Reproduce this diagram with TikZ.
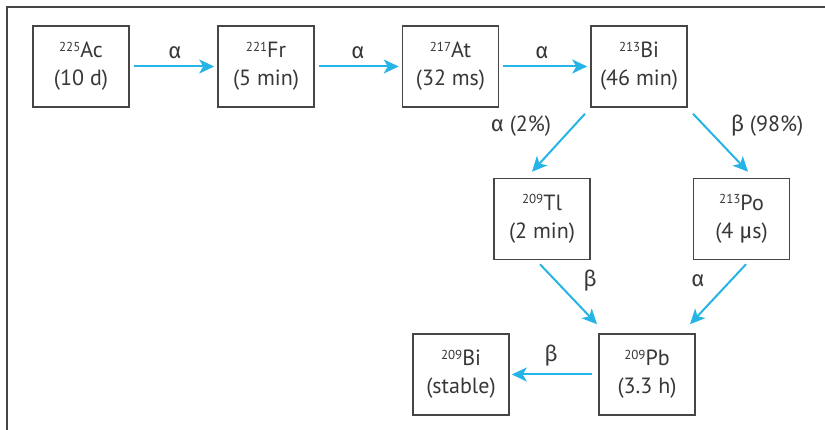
\documentclass[tikz,border=0pt]{standalone}
\usepackage{fontspec}
\setmainfont{PT Sans}
\newfontfamily\grk{Fira Sans}
\usetikzlibrary{arrows.meta,calc}
\definecolor{txt}{RGB}{55,55,55}
\definecolor{boxc}{RGB}{70,70,70}
\definecolor{arr}{RGB}{38,180,230}
\newcommand\msup[1]{\raisebox{6.5pt}{\fontsize{13}{13}\selectfont #1}}
\begin{document}
\begin{tikzpicture}[x=1pt,y=-1pt,
  nuc/.style={draw=boxc,line width=1.5pt,minimum width=96pt,minimum height=81pt,
    inner sep=0pt,align=center,text=txt,font=\fontsize{22}{28}\selectfont},
  lbl/.style={text=txt,inner sep=0pt,font=\fontsize{22}{24}\selectfont},
  decay/.style={draw=arr,line width=2pt,-{Stealth[length=15pt,width=14pt,inset=4pt]}}]
\useasboundingbox (0,0) rectangle (825,430);
\draw[boxc,line width=2pt] (7,431) -- (7,7) -- (826,7);
\node[nuc] (ac) at (81,66.5) {\msup{225}Ac\\(10 d)};
\node[nuc] (fr) at (266,66.5) {\msup{221}Fr\\(5 min)};
\node[nuc] (at) at (450.5,66.5) {\msup{217}At\\(32 ms)};
\node[nuc] (bi) at (639,66.5) {\msup{213}Bi\\(46 min)};
\node[nuc] (tl) at (542,219) {\msup{209}Tl\\(2 min)};
\node[nuc] (po) at (741.5,219) {\msup{213}Po\\(4 {\grk μ}s)};
\node[nuc] (pb) at (647,374.5) {\msup{209}Pb\\(3.3 h)};
\node[nuc] (bs) at (461,374.5) {\msup{209}Bi\\(stable)};
\draw[decay,shorten <=4pt,shorten >=3pt] (ac.east) -- (fr.west);
\draw[decay,shorten <=4pt,shorten >=3pt] (fr.east) -- (at.west);
\draw[decay,shorten <=4pt,shorten >=3pt] (at.east) -- (bi.west);
\draw[decay] ($(bi.south)+(-54,6)$) -- ($(tl.north)+(-10,-6)$);
\draw[decay] ($(bi.south)+(54,6)$) -- ($(po.north)+(6.5,-6)$);
\draw[decay] ($(tl.south)+(-2,4)$) -- ($(pb.north)+(-50,-9)$);
\draw[decay] ($(po.south)+(4.5,4)$) -- ($(pb.north)+(43,-9)$);
\draw[decay,shorten <=6pt,shorten >=2pt] (pb.west) -- (bs.east);
\node[lbl] (l1) at (175,52.5) {\grk α};
\node[lbl] (l2) at (358,52.5) {\grk α};
\node[lbl] (l3) at (542,52.5) {\grk α};
\node[lbl] (l4) at (521,126) {{\grk α} (2\%)};
\node[lbl] (l5) at (767,126) {{\grk β} (98\%)};
\node[lbl] (l6) at (590,281) {\grk β};
\node[lbl] (l7) at (698,281) {\grk α};
\node[lbl] (l8) at (551,356) {\grk β};
\end{tikzpicture}
\end{document}
